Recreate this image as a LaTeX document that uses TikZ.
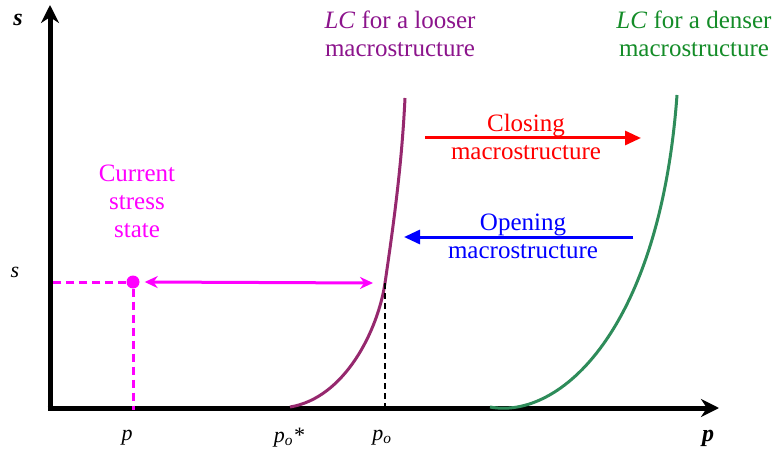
\documentclass[tikz,border=0pt]{standalone}
\usepackage{fontspec}
\setmainfont{Liberation Serif}
\usepackage{tikz}
\usetikzlibrary{arrows.meta}
\definecolor{loose}{RGB}{150,40,110}
\definecolor{lootxt}{RGB}{140,20,140}
\definecolor{dense}{RGB}{46,140,90}
\definecolor{dentxt}{RGB}{20,140,40}
\definecolor{stress}{RGB}{255,0,255}
\tikzset{
  axis/.style={line width=5pt,-{Stealth[length=18pt,width=18pt]}},
  txt/.style={font=\fontsize{25}{28}\selectfont,align=center,inner sep=0pt},
  lbl/.style={font=\fontsize{22}{24}\selectfont\itshape}
}
\begin{document}
\begin{tikzpicture}[x=1pt,y=-1pt]
\useasboundingbox (0,0) rectangle (776,457);
% (x , y) pixel coordinates, y down
\coordinate (o) at (50,408);
\coordinate (ytop) at (50,5);
\coordinate (xend) at (719,408);
\draw[axis] (50,410.5) -- (ytop);
\draw[axis] (47.5,408) -- (xend);
\node[lbl,font=\fontsize{24}{24}\selectfont\bfseries\itshape] (sax) at (18,20) {s};
\node[lbl,font=\fontsize{24}{24}\selectfont\bfseries\itshape] (pax) at (708,438) {p};

%% current stress state %%%%%%%
\node[circle,fill=stress,inner sep=0pt,minimum size=13pt] (cur) at (133,282) {};
\coordinate (sl) at (53,282);
\coordinate (pl) at (133,410);
\draw[stress,line width=3pt,dash pattern=on 8pt off 5pt] (cur) -- (sl);
\draw[stress,line width=3pt,dash pattern=on 8pt off 5pt] (cur) -- (pl);
\node[lbl] (s0) at (15,272) {s};
\node[lbl] (p0) at (127,438) {p};
\node[txt,text=stress] (cst) at (137,201) {Current\\stress\\state};

%% LC loose %%%%%%%
\coordinate (la) at (290,407);
\coordinate (lb) at (385,283);
\coordinate (lc) at (405,98);
\draw[loose,line width=3pt] (la) .. controls (345,398) and (378,330) .. (lb)
  .. controls (395,215) and (402,160) .. (lc);
\draw[line width=2.5pt,dash pattern=on 6pt off 4pt] (lb) -- (385,408);
\draw[stress,line width=3pt,{Stealth[length=13pt,width=12pt]}-{Stealth[length=13pt,width=12pt]}] ([xshift=5pt]cur.east) -- (373,283);
\node[lbl] (pst) at (289,438) {p\textsubscript{o}*};
\node[lbl] (po) at (382,438) {p\textsubscript{o}};
\node[txt,text=lootxt] (ltxt) at (400,34) {\textit{LC} for a looser\\macrostructure};

%% LC dense %%%%%%%
\coordinate (da) at (490,407);
\coordinate (db) at (677,95);
\draw[dense,line width=3pt] (da) .. controls (560,420) and (660,330) .. (db);
\node[txt,text=dentxt] (dtxt) at (694,34) {\textit{LC} for a denser\\macrostructure};

%% closing / opening %%%%%%%
\coordinate (ca) at (425,138);
\coordinate (cb) at (641,138);
\draw[red,line width=3pt,-{Triangle[length=16pt,width=14pt]}] (ca) -- (cb);
\node[txt,text=red] (ctxt) at (526,137) {Closing\\macrostructure};
\coordinate (oa) at (633,237);
\coordinate (ob) at (404,237);
\draw[blue,line width=3pt,-{Triangle[length=16pt,width=14pt]}] (oa) -- (ob);
\node[txt,text=blue] (otxt) at (523,236) {Opening\\macrostructure};
\end{tikzpicture}
\end{document}
